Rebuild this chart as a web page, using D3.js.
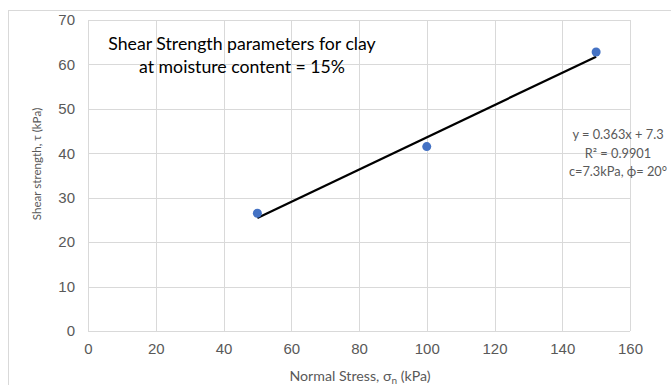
<!DOCTYPE html>
<html>
<head>
<meta charset="utf-8">
<script src="https://cdn.jsdelivr.net/npm/d3@7"></script>
<style>
  html, body { margin: 0; padding: 0; background: #fff; }
  svg { display: block; }
</style>
</head>
<body>
<svg id="chart" width="671" height="385"></svg>
<script>
// Direct shear test results: normal stress vs. shear strength
const normalStress = [50, 100, 150];          // kPa
const shearStrength = [26.5, 41.5, 62.8];     // kPa
const xTicks = [0, 20, 40, 60, 80, 100, 120, 140, 160];
const yTicks = [0, 10, 20, 30, 40, 50, 60, 70];
// Linear trendline coefficients (Mohr–Coulomb: tau = c + sigma * tan(phi))
const slope = 0.363;
const intercept = 7.3;
const titleLines = ["Shear Strength parameters for clay", "at moisture content = 15%"];
const equationLines = ["y = 0.363x + 7.3", "R² = 0.9901", "c=7.3kPa, ϕ= 20°"];

const svg = d3.select("#chart");
const margin = { left: 88, top: 20, right: 41, bottom: 54 };
const W = 671, H = 385;
const plotW = W - margin.left - margin.right;
const plotH = H - margin.top - margin.bottom;

const x = d3.scaleLinear().domain([0, 160]).range([margin.left, margin.left + plotW]);
const y = d3.scaleLinear().domain([0, 70]).range([margin.top + plotH, margin.top]);

// Outer chart frame
svg.append("rect")
  .attr("x", 8.5).attr("y", 10.5)
  .attr("width", 700).attr("height", 400)
  .attr("fill", "#fff").attr("stroke", "#d9d9d9").attr("stroke-width", 1);

const grid = svg.append("g").attr("stroke", "#d9d9d9").attr("stroke-width", 1).attr("shape-rendering", "crispEdges");
grid.selectAll(".gx").data(xTicks).join("line")
  .attr("x1", d => Math.round(x(d)) + 0.5).attr("x2", d => Math.round(x(d)) + 0.5)
  .attr("y1", y(70)).attr("y2", y(0));
grid.selectAll(".gy").data(yTicks).join("line")
  .attr("y1", d => Math.round(y(d)) + 0.5).attr("y2", d => Math.round(y(d)) + 0.5)
  .attr("x1", x(0)).attr("x2", x(160));

// Axes (labels only; lines come from the grid)
const tickFont = "'Liberation Sans', Arial, sans-serif";
const xAxis = svg.append("g")
  .attr("transform", `translate(0,${y(0)})`)
  .call(d3.axisBottom(x).tickValues(xTicks).tickSize(0).tickPadding(12));
const yAxis = svg.append("g")
  .attr("transform", `translate(${x(0)},0)`)
  .call(d3.axisLeft(y).tickValues(yTicks).tickSize(0).tickPadding(13));
[xAxis, yAxis].forEach(a => {
  a.select(".domain").remove();
  a.selectAll("text").attr("fill", "#595959").attr("font-size", "15px").attr("font-family", tickFont);
});

// Trendline across the data range
const xr = d3.extent(normalStress);
svg.append("line")
  .attr("x1", x(xr[0])).attr("y1", y(slope * xr[0] + intercept))
  .attr("x2", x(xr[1])).attr("y2", y(slope * xr[1] + intercept))
  .attr("stroke", "#000").attr("stroke-width", 2.25);

// Data points
svg.selectAll(".pt").data(normalStress).join("circle")
  .attr("cx", d => x(d))
  .attr("cy", (d, i) => y(shearStrength[i]))
  .attr("r", 4.5)
  .attr("fill", "#4472c4");

const labelFont = "Lato, 'Open Sans', sans-serif";

// Chart title
svg.append("text")
  .attr("text-anchor", "middle")
  .attr("font-family", labelFont).attr("font-size", "17.7px").attr("fill", "#000")
  .selectAll("tspan").data(titleLines).join("tspan")
  .attr("x", 242).attr("y", (d, i) => 49.5 + i * 23.5)
  .text(d => d);

// Trendline equation
svg.append("text")
  .attr("text-anchor", "middle")
  .attr("font-family", labelFont).attr("font-size", "12.8px").attr("fill", "#595959")
  .selectAll("tspan").data(equationLines).join("tspan")
  .attr("x", 618).attr("y", (d, i) => 139 + i * 18.5)
  .text(d => d);

// Axis titles
svg.append("text")
  .attr("transform", "translate(41,164) rotate(-90)")
  .attr("text-anchor", "middle")
  .attr("font-family", labelFont).attr("font-size", "11.6px").attr("fill", "#595959")
  .text("Shear strength, τ (kPa)");

const xt = svg.append("text")
  .attr("x", 360).attr("y", 381)
  .attr("text-anchor", "middle")
  .attr("font-family", labelFont).attr("font-size", "14.2px").attr("fill", "#595959");
xt.append("tspan").text("Normal Stress, σ");
xt.append("tspan").attr("font-size", "10px").attr("dy", 3).text("n");
xt.append("tspan").attr("dy", -3).text(" (kPa)");
</script>
</body>
</html>
